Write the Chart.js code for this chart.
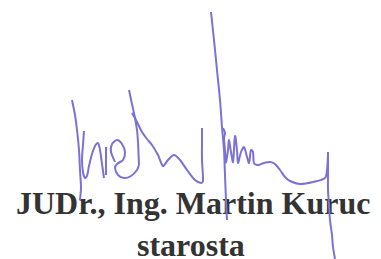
<!DOCTYPE html>
<html>
<head>
<meta charset="utf-8">
<script src="https://cdn.jsdelivr.net/npm/chart.js@4/dist/chart.umd.min.js"></script>
<style>
    html, body { margin: 0; padding: 0; background: #fff; }
    #wrap { position: relative; width: 381px; height: 259px; overflow: hidden; }
    .name { position: absolute; font-family: "Liberation Serif", "Times New Roman", serif; font-weight: bold;
        font-size: 32px; line-height: 32px; color: #333; white-space: nowrap; }
    #myChart { position: absolute; left: 0; top: 0; }
</style>
</head>
<body>
<div id="wrap">
    <div class="name" id="line1" style="left:16px; top:187px;">JUDr., Ing. Martin Kuruc</div>
    <div class="name" id="line2" style="left:137px; top:229px;">starosta</div>
    <canvas id="myChart" width="381" height="259"></canvas>
</div>
<script>
// signature strokes, points (x, y in image pixels)
const strokeLeft = [[72,100],[75,115],[77,130],[79,150],[80,170],[81,188],[80,200]];
const strokeLu = [[84,131],[83,145],[82,160],[83,172],[85,178],[87,176],[89,166],[92,154],[95,146],[98,143],[100,150],[102,164],[104,178]];
const strokeC = [[106,147],[106,160],[106,175]];
const strokeE = [[115,162],[111,152],[112,144],[117,140],[122,144],[125,152],[123,160],[117,164],[115,168],[118,175],[124,178],[131,176],[137,170],[139,165]];
const strokeTall1 = [[129,90],[132,104],[135,118],[137,130],[138,142],[139,165]];
const strokeN = [[132,113],[137,122],[142,132],[147,139],[152,145],[158,155],[163,166],[168,160],[174,155],[180,160],[187,170],[195,180],[201,183],[203,181],[202,160],[202,140],[202,128]];
const strokeTall2 = [[211,12],[214,40],[217,70],[220,100],[222,127],[224,150],[225,175],[226,200],[227,220]];
const strokeScribble = [[223,128],[225,133],[224,138],[225,150],[226,163],[228,150],[229,140],[231,152],[233,162],[235,136],[237,150],[238,163],[241,152],[244,147],[247,157],[249,163],[251,150],[253,152],[254,163],[258,165],[264,163],[270,162],[275,164],[280,170],[285,177],[290,181],[300,184],[313,182],[325,178],[327,170],[328,155]];
const strokeRight = [[328,152],[328,170],[328,190],[329,205],[330,220],[332,235],[333,247],[335,259]];

const strokes = [strokeLeft, strokeLu, strokeC, strokeE, strokeTall1, strokeN, strokeTall2, strokeScribble, strokeRight];
const inkColor = '#7a72d6';

const datasets = strokes.map(s => ({
    data: s.map(p => ({ x: p[0], y: p[1] })),
    showLine: true,
    borderColor: inkColor,
    borderWidth: 2,
    pointRadius: 0,
    tension: 0.3,
    fill: false
}));

const ctx = document.getElementById('myChart').getContext('2d');
new Chart(ctx, {
    type: 'scatter',
    data: { datasets: datasets },
    options: {
        responsive: false,
        maintainAspectRatio: false,
        animation: false,
        layout: { padding: 0 },
        plugins: { legend: { display: false }, tooltip: { enabled: false } },
        scales: {
            x: { type: 'linear', min: 0, max: 381, display: false },
            y: { type: 'linear', min: 0, max: 259, reverse: true, display: false }
        }
    }
});
</script>
</body>
</html>
